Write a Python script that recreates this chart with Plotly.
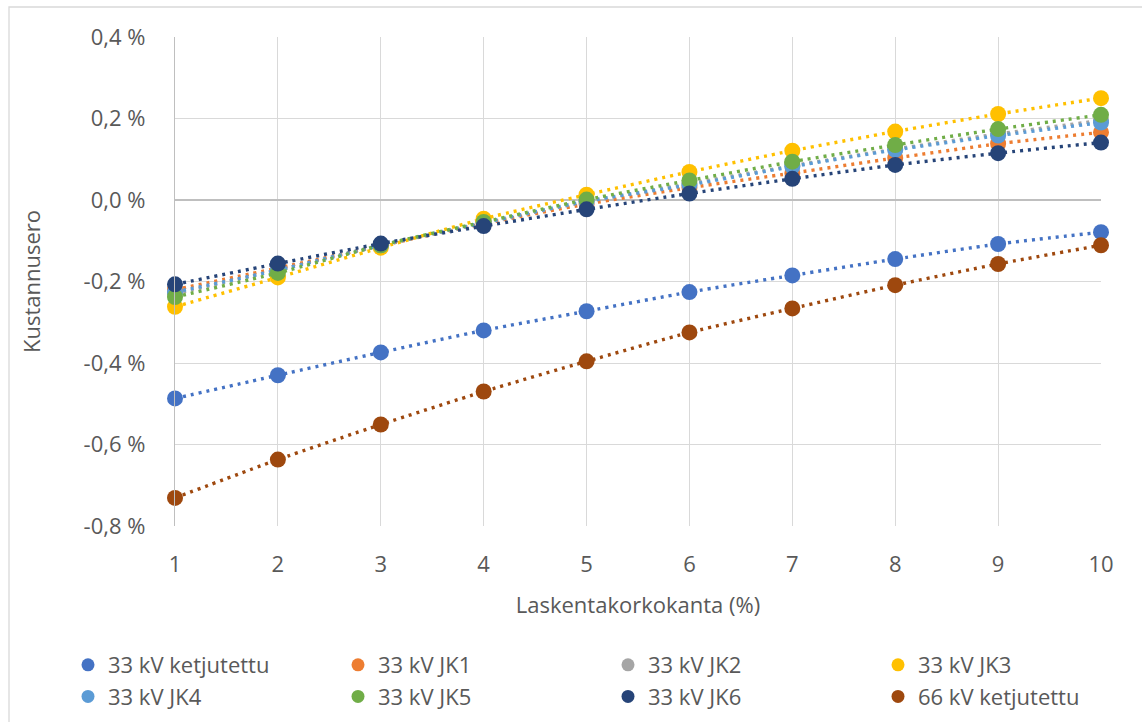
import plotly.graph_objects as go

# Discount rate (%) on the x axis
rates = [1, 2, 3, 4, 5, 6, 7, 8, 9, 10]

# Cost difference (%) for each alternative
kv33_chained = [-0.487, -0.430, -0.374, -0.320, -0.273, -0.226, -0.185, -0.145, -0.108, -0.079]
kv33_jk1 = [-0.220, -0.167, -0.112, -0.058, -0.010, 0.030, 0.066, 0.103, 0.138, 0.166]
kv33_jk2 = [-0.230, -0.172, -0.112, -0.056, -0.004, 0.040, 0.084, 0.125, 0.162, 0.195]
kv33_jk3 = [-0.262, -0.190, -0.117, -0.046, 0.013, 0.069, 0.121, 0.168, 0.211, 0.250]
kv33_jk4 = [-0.226, -0.172, -0.111, -0.056, -0.003, 0.037, 0.082, 0.123, 0.158, 0.190]
kv33_jk5 = [-0.238, -0.179, -0.111, -0.054, 0.001, 0.048, 0.094, 0.135, 0.174, 0.209]
kv33_jk6 = [-0.207, -0.156, -0.107, -0.064, -0.023, 0.016, 0.052, 0.086, 0.115, 0.141]
kv66_chained = [-0.731, -0.637, -0.551, -0.470, -0.396, -0.325, -0.266, -0.209, -0.157, -0.111]

series_names = [
    "33 kV ketjutettu", "33 kV JK1", "33 kV JK2", "33 kV JK3",
    "33 kV JK4", "33 kV JK5", "33 kV JK6", "66 kV ketjutettu",
]
series_values = [kv33_chained, kv33_jk1, kv33_jk2, kv33_jk3,
                 kv33_jk4, kv33_jk5, kv33_jk6, kv66_chained]
series_colors = ["#4472C4", "#ED7D31", "#A5A5A5", "#FFC000",
                 "#5B9BD5", "#70AD47", "#264478", "#9E480E"]

y_tick_vals = [-0.8, -0.6, -0.4, -0.2, 0.0, 0.2, 0.4]
y_tick_text = ["-0,8 %", "-0,6 %", "-0,4 %", "-0,2 %", "0,0 %", "0,2 %", "0,4 %"]

FONT = "Open Sans"
TEXT_COLOR = "#595959"
FONT_SIZE = 22

fig = go.Figure()
for name, vals, color in zip(series_names, series_values, series_colors):
    fig.add_trace(go.Scatter(
        x=rates, y=vals, name=name, mode="lines+markers",
        line=dict(color=color, width=3.4, dash="3px,5px", shape="spline", smoothing=0.6),
        marker=dict(color=color, size=16),
        cliponaxis=False, showlegend=False, legendgroup=name,
    ))

# marker-only legend entries
for name, color in zip(series_names, series_colors):
    fig.add_trace(go.Scatter(
        x=[None], y=[None], name=name, mode="markers",
        marker=dict(color=color, size=13), legendgroup=name,
    ))

# outer chart frame (left and top edges)
fig.add_shape(type="rect", xref="paper", yref="paper",
              x0=(9 - 175) / 926, x1=(1200 - 175) / 926,
              y0=(526 - 760) / 489, y1=(526 - 7) / 489,
              line=dict(color="#d9d9d9", width=1.3), fillcolor="rgba(0,0,0,0)",
              layer="below")

fig.update_layout(
    width=1142, height=722,
    margin=dict(l=175, r=41, t=37, b=196, autoexpand=False),
    paper_bgcolor="white", plot_bgcolor="white",
    font=dict(family=FONT, size=FONT_SIZE, color=TEXT_COLOR),
    showlegend=True,
    legend=dict(
        orientation="h", x=(68 - 175) / 926, xanchor="left",
        y=(526 - 644) / 489, yanchor="top",
        entrywidth=225, entrywidthmode="pixels",
        font=dict(family=FONT, size=FONT_SIZE, color=TEXT_COLOR),
        itemwidth=30, tracegroupgap=0,
    ),
    xaxis=dict(
        range=[1, 10], tickvals=rates, ticks="",
        showgrid=True, gridcolor="#d9d9d9", gridwidth=1.3,
        zeroline=False, showline=False,
        ticklabelstandoff=23,
        title=dict(text="Laskentakorkokanta (%)", standoff=20,
                   font=dict(family=FONT, size=FONT_SIZE, color=TEXT_COLOR)),
    ),
    yaxis=dict(
        range=[-0.8, 0.4], tickvals=y_tick_vals, ticktext=y_tick_text, ticks="",
        showgrid=True, gridcolor="#d9d9d9", gridwidth=1.3,
        zeroline=True, zerolinecolor="#bfbfbf", zerolinewidth=1.5,
        showline=True, linecolor="#bfbfbf", linewidth=1.3,
        ticklabelstandoff=24,
        title=dict(text="Kustannusero", standoff=36,
                   font=dict(family=FONT, size=FONT_SIZE, color=TEXT_COLOR)),
    ),
)

fig.write_html("out.html")
